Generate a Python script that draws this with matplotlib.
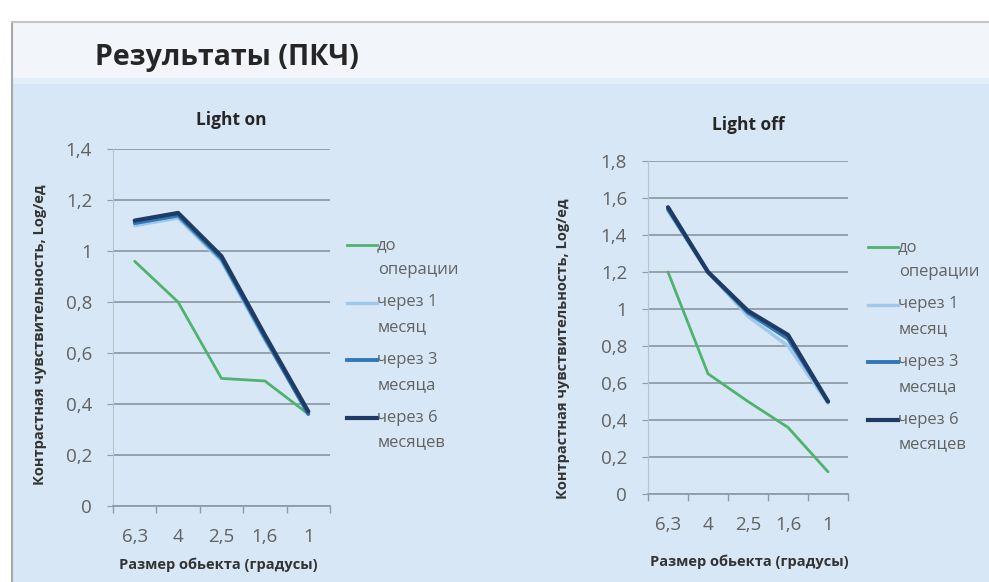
import matplotlib
matplotlib.use("Agg")
import matplotlib.pyplot as plt
from matplotlib.lines import Line2D
from matplotlib.patches import Rectangle
from matplotlib.ticker import FuncFormatter, FixedLocator
import numpy as np

plt.rcParams['font.family'] = ['Open Sans', 'DejaVu Sans']

# ---- data ----
categories = ['6,3', '4', '2,5', '1,6', '1']
series_names = ['до\nоперации', 'через 1\nмесяц', 'через 3\nмесяца', 'через 6\nмесяцев']

on_before = [0.96, 0.80, 0.50, 0.49, 0.36]
on_1m = [1.10, 1.13, 0.96, 0.65, 0.37]
on_3m = [1.11, 1.14, 0.97, 0.66, 0.36]
on_6m = [1.12, 1.15, 0.98, 0.67, 0.37]

off_before = [1.20, 0.65, 0.50, 0.36, 0.12]
off_1m = [1.53, 1.20, 0.96, 0.80, 0.49]
off_3m = [1.54, 1.20, 0.98, 0.84, 0.50]
off_6m = [1.55, 1.20, 0.99, 0.86, 0.50]

title = 'Результаты (ПКЧ)'
ylabel = 'Контрастная чувствительность, Log/ед'
xlabel = 'Размер обьекта (градусы)'

colors = ['#4fb36f', '#9fc8ea', '#2f78b8', '#1f3a63']
widths = [2.0, 2.4, 2.8, 3.0]

W, H = 989, 582
fig = plt.figure(figsize=(W / 100, H / 100), dpi=100)
fig.patch.set_facecolor('white')

def fx(px):
    return px / W

def fy(py):
    return 1 - py / H

# slide background
bg = fig.add_axes([0, 0, 1, 1], zorder=-10)
bg.set_xlim(0, W)
bg.set_ylim(H, 0)
bg.axis('off')
bg.add_patch(Rectangle((12, 22), W, 60, facecolor='#f2f6fa', edgecolor='none'))
bg.add_patch(Rectangle((12, 82), W, H, facecolor='#d7e7f5', edgecolor='none'))
bg.add_patch(Rectangle((12, 78), W, 6, facecolor='#e2eef8', edgecolor='none'))
bg.plot([12, 12], [22, H], color='#a8a8a8', lw=1.5)
bg.plot([12, W], [22, 22], color='#c4c4c4', lw=1.5)

fig.text(fx(95), fy(58), title, fontsize=20.5, fontweight='bold', color='#262626',
         ha='left', va='center')

def fmt(v, pos):
    s = '{:g}'.format(round(v, 2))
    return s.replace('.', ',')

grid_c = '#8e9ca8'
text_c = '#626262'

def make_chart(rect, ymax, data, subtitle, sub_xy, ylab_xy, xlab_xy, leg_x, leg_y):
    ax = fig.add_axes(rect)
    ax.patch.set_alpha(0)
    x = np.arange(len(categories))
    for vals, c, lw in zip(data, colors, widths):
        ax.plot(x, vals, color=c, lw=lw, solid_capstyle='round', solid_joinstyle='round')
    ax.set_xlim(-0.5, len(categories) - 0.5)
    ax.set_ylim(0, ymax)
    ax.yaxis.set_major_locator(FixedLocator(np.arange(0, ymax + 0.01, 0.2)))
    ax.yaxis.set_major_formatter(FuncFormatter(fmt))
    ax.set_xticks(x)
    ax.set_xticklabels(categories)
    ax.set_xticks(np.arange(-0.5, len(categories)), minor=True)
    ax.tick_params(axis='x', which='major', length=0, pad=16, labelsize=13.5, labelcolor=text_c)
    ax.tick_params(axis='x', which='minor', length=5, color=grid_c, width=1)
    ax.tick_params(axis='y', length=4, color=grid_c, pad=11, labelsize=13.5, labelcolor=text_c)
    ax.grid(axis='y', color=grid_c, lw=1.3)
    ax.set_axisbelow(True)
    for s in ['top', 'right']:
        ax.spines[s].set_visible(False)
    ax.spines['left'].set_color('#b8c4cc')
    ax.spines['bottom'].set_color(grid_c)
    ax.spines['bottom'].set_linewidth(1.3)
    fig.text(fx(sub_xy[0]), fy(sub_xy[1]), subtitle, fontsize=12.5, fontweight='bold',
             color='#262626', ha='center', va='center')
    fig.text(fx(ylab_xy[0]), fy(ylab_xy[1]), ylabel, fontsize=10.5, fontweight='bold',
             color='#333333', ha='center', va='center', rotation=90)
    fig.text(fx(xlab_xy[0]), fy(xlab_xy[1]), xlabel, fontsize=10.5, fontweight='bold',
             color='#333333', ha='center', va='center')
    for i, (name, c, lw) in enumerate(zip(series_names, colors, widths)):
        y0 = leg_y + i * 57.5
        fig.add_artist(Line2D([fx(leg_x), fx(leg_x + 30)], [fy(y0), fy(y0)], color=c, lw=lw))
        first, second = name.split('\n')
        fig.text(fx(leg_x + 30), fy(y0), first, fontsize=12, color=text_c, ha='left', va='center')
        fig.text(fx(leg_x + 31), fy(y0 + 25), second, fontsize=12, color=text_c, ha='left', va='center')
    return ax

make_chart([fx(113), fy(505.7), fx(330 - 113), (505.7 - 149.3) / H], 1.4,
           [on_before, on_1m, on_3m, on_6m], 'Light on', (231, 120), (40, 335),
           (218, 565), 347, 245)
make_chart([fx(648), fy(494), fx(848 - 648), (494 - 161) / H], 1.8,
           [off_before, off_1m, off_3m, off_6m], 'Light off', (748, 125), (563, 349),
           (749, 562), 868, 247)

fig.savefig('out.png', dpi=100, facecolor=fig.get_facecolor())
